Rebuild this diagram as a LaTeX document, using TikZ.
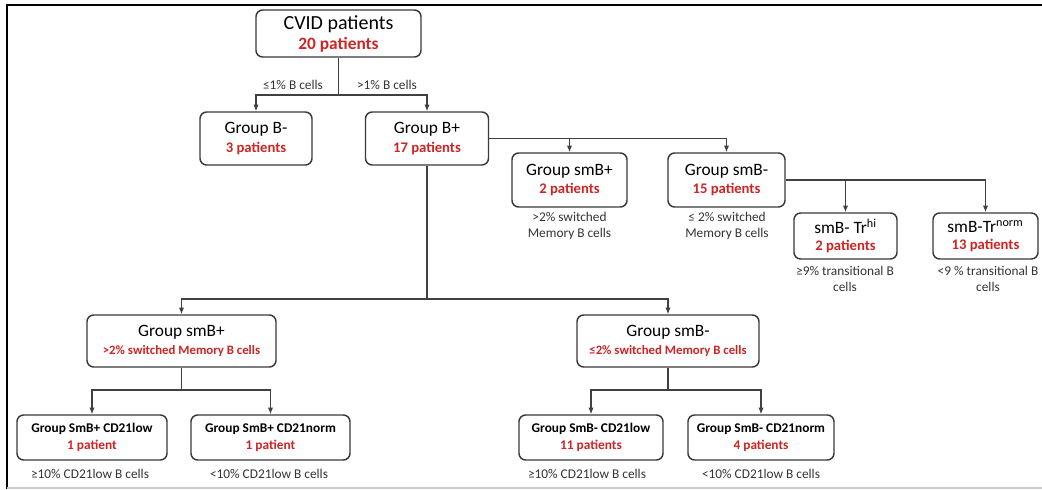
\documentclass[tikz,border=0pt]{standalone}
\usepackage{fontspec}
\setmainfont{Carlito}
\usetikzlibrary{arrows.meta}
\definecolor{boxc}{HTML}{3A3A3A}
\definecolor{linec}{HTML}{404040}
\definecolor{rd}{HTML}{D02424}
\definecolor{lblc}{HTML}{333333}
\newcommand{\tA}[1]{{\fontsize{15}{17}\selectfont #1}}
\newcommand{\rA}[1]{{\fontsize{13}{15}\selectfont\bfseries\color{rd}#1}}
\newcommand{\tB}[1]{{\fontsize{13}{15}\selectfont #1}}
\newcommand{\rB}[1]{{\fontsize{11}{13}\selectfont\bfseries\color{rd}#1}}
\newcommand{\rD}[1]{{\fontsize{9.6}{12}\selectfont\bfseries\color{rd}#1}}
\newcommand{\tC}[1]{{\fontsize{10}{12}\selectfont\bfseries #1}}
\newcommand{\rC}[1]{{\fontsize{10}{12}\selectfont\bfseries\color{rd}#1}}
\begin{document}
\begin{tikzpicture}[x=0.75pt,y=-0.75pt,
  box/.style={draw=boxc, line width=1.1pt, rounded corners=5pt, fill=white, align=center, inner sep=1pt},
  sz/.style 2 args={minimum width=#1*0.75pt, minimum height=#2*0.75pt},
  lbl/.style={text=lblc, font=\fontsize{10}{12}\selectfont, align=center, inner sep=0pt},
  arr/.style={draw=linec, line width=0.9pt, -{Latex[length=5pt,width=4pt]}},
  ln/.style={draw=linec, line width=0.9pt}]
\useasboundingbox (0,0) rectangle (1042,489);
\draw[black, line width=1pt] (7,489) -- (7,5) -- (1042,5);
\draw[gray!40, line width=1pt] (7,488) -- (1042,488);

% nodes
\node[box, sz={165}{47}] (cvid) at (338.5,33.5) {\tA{CVID patients}\\[3pt]\rA{20 patients}};
\node[box, sz={112}{53}] (bm) at (256,138.5) {\tB{Group B-}\\[2pt]\rB{3 patients}};
\node[box, sz={123}{53}] (bp) at (427,138.5) {\tB{Group B+}\\[2pt]\rB{17 patients}};
\node[box, sz={115}{54}] (smbp) at (569.5,180) {\tB{Group smB+}\\[2pt]\rB{2 patients}};
\node[box, sz={117}{54}] (smbm) at (726.5,180) {\tB{Group smB-}\\[2pt]\rB{15 patients}};
\node[box, sz={103}{46}] (trh) at (845.5,236) {\tB{smB- Tr\textsuperscript{hi}}\\[1pt]\rB{2 patients}};
\node[box, sz={105}{46}] (trn) at (985.5,236) {\tB{smB-Tr\textsuperscript{norm}}\\[1pt]\rB{13 patients}};
\node[box, sz={189}{52}] (lp) at (181.5,341) {\tB{Group smB+}\\[1pt]\rD{>2\% switched Memory B cells}};
\node[box, sz={182}{52}] (lm) at (668,341) {\tB{Group smB-}\\[1pt]\rD{≤2\% switched Memory B cells}};
\node[box, sz={150}{45}] (a1) at (92,437.5) {\tC{Group SmB+ CD21low}\\[1pt]\rC{1 patient}};
\node[box, sz={159}{45}] (a2) at (270.5,437.5) {\tC{Group SmB+ CD21norm}\\[1pt]\rC{1 patient}};
\node[box, sz={144}{45}] (a3) at (591,437.5) {\tC{Group SmB- CD21low}\\[1pt]\rC{11 patients}};
\node[box, sz={146}{45}] (a4) at (761,437.5) {\tC{Group SmB- CD21norm}\\[1pt]\rC{4 patients}};

% labels
\node[lbl] (l1) at (293,85) {≤1\% B cells};
\node[lbl] (l2) at (387,85) {>1\% B cells};
\node[lbl] (l3) at (569.5,226) {>2\% switched\\Memory B cells};
\node[lbl] (l4) at (727,226) {≤ 2\% switched\\Memory B cells};
\node[lbl] (l5) at (845,278.5) {≥9\% transitional B\\cells};
\node[lbl] (l6) at (988,278.5) {<9 \% transitional B\\cells};
\node[lbl] (l7) at (90,474) {≥10\% CD21low B cells};
\node[lbl] (l8) at (269,474) {<10\% CD21low B cells};
\node[lbl] (l9) at (587,474) {≥10\% CD21low B cells};
\node[lbl] (l10) at (761,474) {<10\% CD21low B cells};

% connectors
\coordinate (y1) at (0,95);
\coordinate (y2) at (0,299);
\coordinate (y3) at (0,390);
\draw[arr] (cvid.south) -- (cvid.south |- y1) -| (bm.north);
\draw[arr] (cvid.south |- y1) -| (bp.north);
\draw[arr] (bp.east) -| (smbm.north);
\draw[arr] (bp.east -| smbp.north) -- (smbp.north);
\draw[arr] (smbm.east) -| (trn.north);
\draw[arr] (smbm.east -| trh.north) -- (trh.north);
\draw[ln] (bp.south) -- (bp.south |- y2);
\draw[arr] (bp.south |- y2) -| (lp.north);
\draw[arr] (bp.south |- y2) -| (lm.north);
\draw[ln] (lp.south) -- (lp.south |- y3);
\draw[arr] (lp.south |- y3) -| (a1.north);
\draw[arr] (lp.south |- y3) -| (a2.north);
\draw[ln] (lm.south) -- (lm.south |- y3);
\draw[arr] (lm.south |- y3) -| (a3.north);
\draw[arr] (lm.south |- y3) -| (a4.north);
\end{tikzpicture}
\end{document}
